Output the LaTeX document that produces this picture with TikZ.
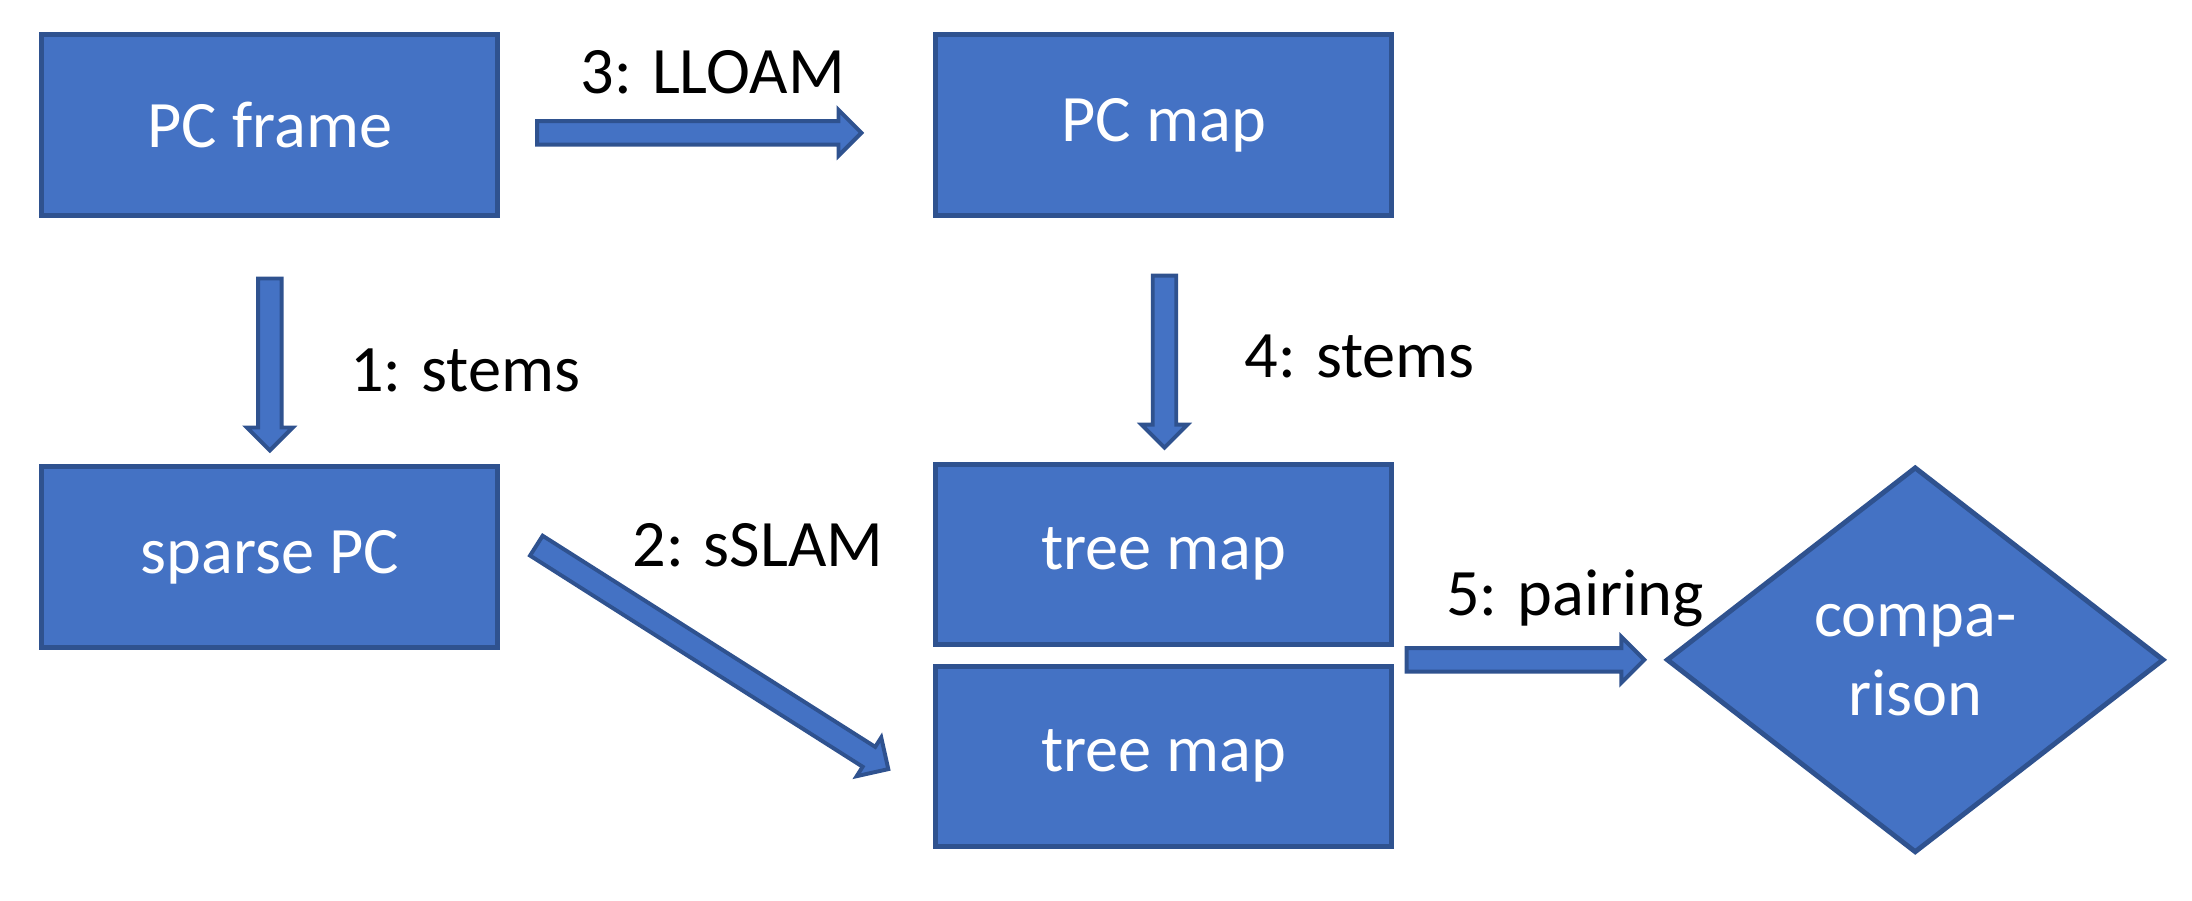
\documentclass[tikz,border=0pt]{standalone}
\usepackage{fontspec}
\setmainfont{Carlito}
\usetikzlibrary{shapes.geometric,shapes.arrows,calc}
\definecolor{boxfill}{HTML}{4472C4}
\definecolor{boxline}{HTML}{2F528F}
\tikzset{
  box/.style={draw=boxline, fill=boxfill, line width=1pt, text=white, minimum width=3.26cm, minimum height=1.29cm, font=\fontsize{13.5}{16}\selectfont},
  choice/.style={draw=boxline, fill=boxfill, line width=1pt, diamond, aspect=1.29, minimum width=3.56cm, minimum height=2.76cm, inner sep=0pt, text=white, align=center, font=\fontsize{13.5}{16}\selectfont},
  fat arrow/.style={single arrow, draw=boxline, fill=boxfill, line width=0.8pt, inner sep=0.07cm, single arrow head extend=0.08cm, single arrow head indent=0cm},
  lbl/.style={font=\fontsize{13.5}{16}\selectfont, anchor=west}
}
\newcommand{\blockarrow}[2]{%
  \path let \p1=($(#2)-(#1)$), \n1={atan2(\y1,\x1)}, \n2={veclen(\x1,\y1)} in
    node[fat arrow, minimum height=\n2, rotate=\n1] at ($(#1)!0.5!(#2)$) {};}
\begin{document}
\begin{tikzpicture}
\useasboundingbox (0,0) rectangle (15.68,6.44);

% Boxes
\node[box] (frame) at (1.93, 5.545) {PC frame};
\node[box] (pcmap) at (8.325, 5.545) {PC map};
\node[box] (sparse) at (1.93, 2.455) {sparse PC};
\node[box] (tree1) at (8.325, 2.475) {tree map};
\node[box] (tree2) at (8.325, 1.03) {tree map};
\node[choice] (cmp) at (13.70, 1.72) {compa-\\rison};

% Arrow ends
\coordinate (a3s) at (3.80, 5.49);
\coordinate (a3e) at (6.12, 5.49);
\coordinate (a1s) at (1.93, 4.49);
\coordinate (a1e) at (1.93, 3.26);
\coordinate (a4s) at (8.33, 4.51);
\coordinate (a4e) at (8.33, 3.28);
\coordinate (a5s) at (10.02, 1.72);
\coordinate (a5e) at (11.72, 1.72);
\coordinate (a2s) at (3.80, 2.56);
\coordinate (a2e) at (6.32, 0.96);

% Arrows
\blockarrow{a3s}{a3e}
\blockarrow{a1s}{a1e}
\blockarrow{a4s}{a4e}
\blockarrow{a5s}{a5e}
\blockarrow{a2s}{a2e}

% Labels
\node[lbl] (l3) at (4.03, 5.92) {3: LLOAM};
\node[lbl] (l1) at (2.38, 3.79) {1: stems};
\node[lbl] (l4) at (8.78, 3.89) {4: stems};
\node[lbl] (l2) at (4.40, 2.54) {2: sSLAM};
\node[lbl] (l5) at (10.22, 2.16) {5: pairing};
\end{tikzpicture}
\end{document}
